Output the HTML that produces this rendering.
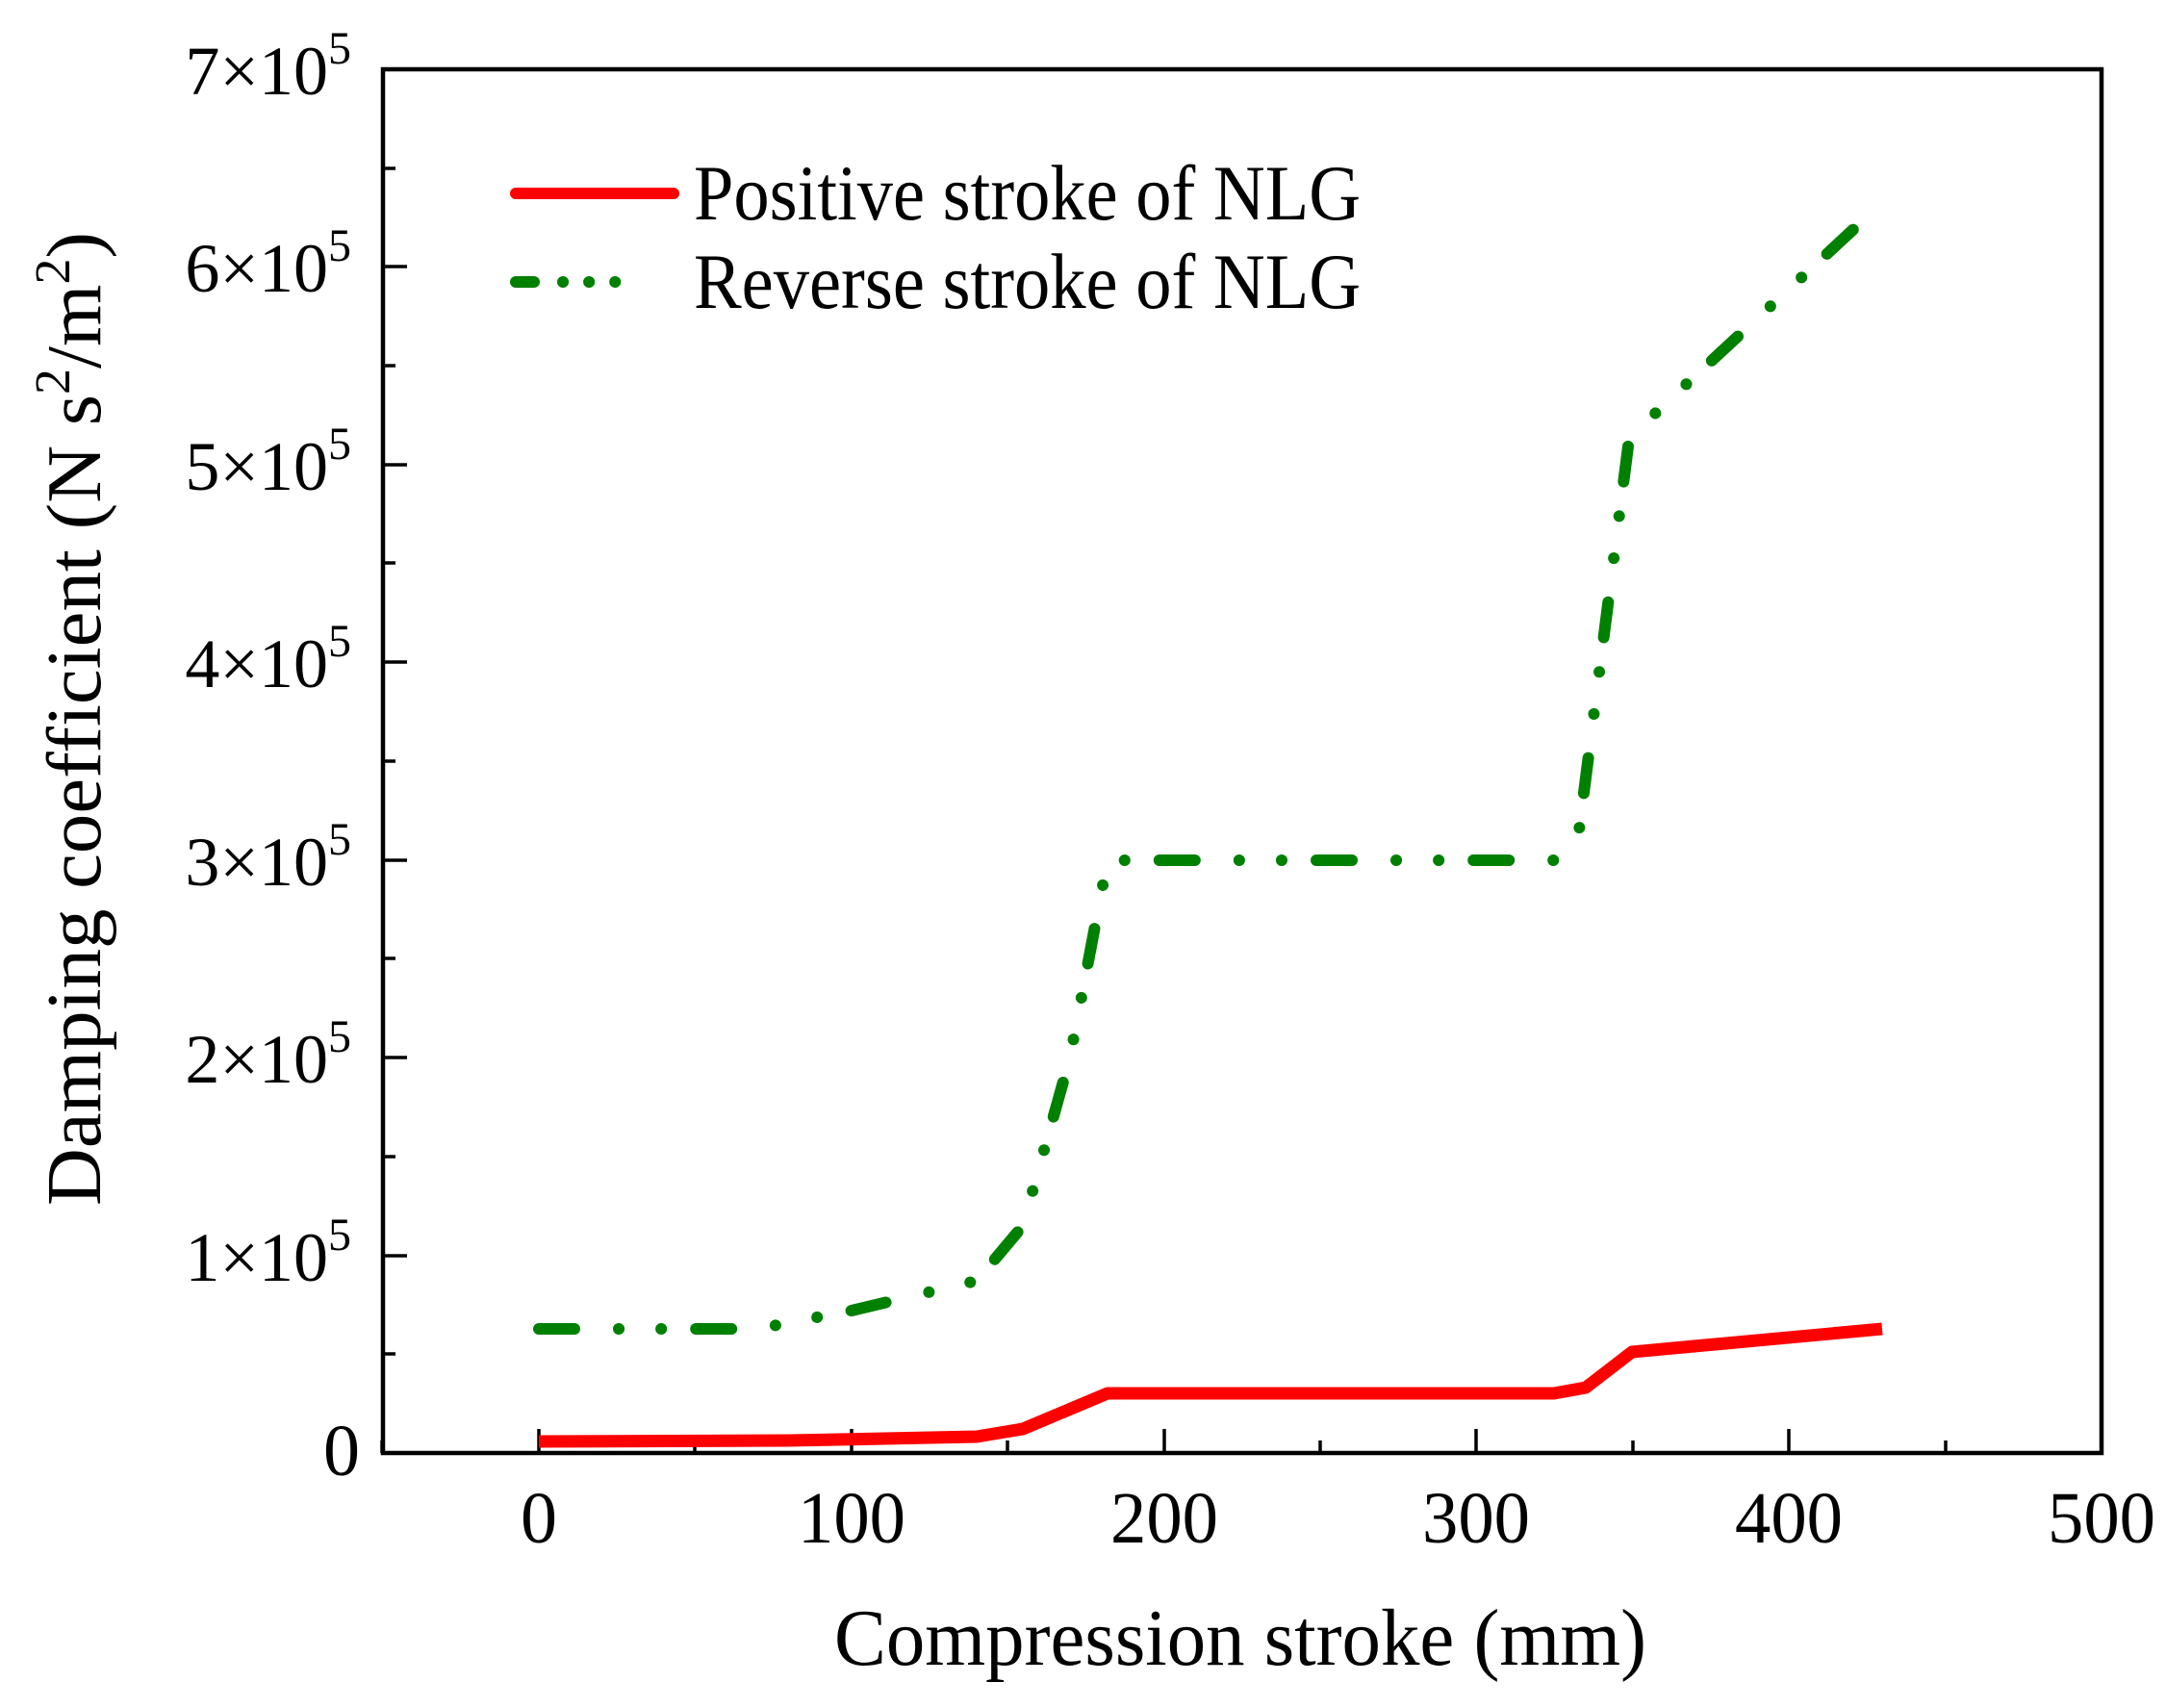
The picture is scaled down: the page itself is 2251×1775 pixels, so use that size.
<!DOCTYPE html>
<html><head><style>html,body{margin:0;padding:0;background:#fff}svg{display:block}</style></head>
<body>
<svg width="2251" height="1775" viewBox="0 0 2251 1775" xmlns="http://www.w3.org/2000/svg" font-family="Liberation Serif, serif">
<rect width="2251" height="1775" fill="#fff"/>
<g stroke="#000" stroke-width="3.5">
<path d="M560 1510v-25M885 1510v-25M1210 1510v-25M1534 1510v-25M1859 1510v-25"/>
<path d="M397 1510v-13M722 1510v-13M1047 1510v-13M1372 1510v-13M1697 1510v-13M2022 1510v-13"/>
<path d="M398 1305h25M398 1099h25M398 894h25M398 688h25M398 483h25M398 277h25"/>
<path d="M398 1407h13M398 1202h13M398 996h13M398 791h13M398 585h13M398 380h13M398 175h13"/>
</g>
<rect x="398" y="72" width="1786" height="1438" fill="none" stroke="#000" stroke-width="4.5"/>
<polyline fill="none" stroke="#008000" stroke-width="12" stroke-linecap="round" stroke-linejoin="round" stroke-dasharray="37 46 0.1 44 0.1 36"
points="560,1381 787,1381 885,1362 1015,1331 1063,1274 1112,1099 1151,894 1615,894 1641,863 1693,456 1729,421 1933,232"/>
<polyline fill="none" stroke="#ff0000" stroke-width="13" stroke-linejoin="round"
points="560,1498 820,1497 1015,1493 1063,1485 1151,1448 1615,1448 1648,1442 1696,1405 1956,1381"/>
<g font-size="76" text-anchor="middle">
<text x="560" y="1603">0</text>
<text x="885" y="1603" textLength="112" lengthAdjust="spacingAndGlyphs">100</text>
<text x="1210" y="1603" textLength="112" lengthAdjust="spacingAndGlyphs">200</text>
<text x="1534" y="1603" textLength="112" lengthAdjust="spacingAndGlyphs">300</text>
<text x="1859" y="1603" textLength="112" lengthAdjust="spacingAndGlyphs">400</text>
<text x="2184" y="1603" textLength="112" lengthAdjust="spacingAndGlyphs">500</text>
</g>
<text x="1289" y="1730" font-size="84" text-anchor="middle" textLength="844" lengthAdjust="spacingAndGlyphs">Compression stroke (mm)</text>
<g font-size="72" text-anchor="end">
<text x="374" y="1533" font-size="76">0</text>
<text x="365" y="1331">1×10<tspan dy="-32" font-size="48">5</tspan></text>
<text x="365" y="1125">2×10<tspan dy="-32" font-size="48">5</tspan></text>
<text x="365" y="920">3×10<tspan dy="-32" font-size="48">5</tspan></text>
<text x="365" y="714">4×10<tspan dy="-32" font-size="48">5</tspan></text>
<text x="365" y="509">5×10<tspan dy="-32" font-size="48">5</tspan></text>
<text x="365" y="303">6×10<tspan dy="-32" font-size="48">5</tspan></text>
<text x="365" y="98">7×10<tspan dy="-32" font-size="48">5</tspan></text>
</g>
<text transform="translate(104,747) rotate(-90)" font-size="80" text-anchor="middle" textLength="1012" lengthAdjust="spacingAndGlyphs">Damping coefficient (N s<tspan dy="-32" font-size="52">2</tspan><tspan dy="32">/m</tspan><tspan dy="-32" font-size="52">2</tspan><tspan dy="32">)</tspan></text>
<line x1="536" y1="201" x2="700" y2="201" stroke="#ff0000" stroke-width="12" stroke-linecap="round"/>
<polyline points="536,293 706,293" fill="none" stroke="#008000" stroke-width="12" stroke-linecap="round" stroke-dasharray="19 30 0.1 27 0.1 27 0.1 100"/>
<text x="721" y="228" font-size="82" textLength="693" lengthAdjust="spacingAndGlyphs">Positive stroke of NLG</text>
<text x="721" y="320" font-size="82" textLength="693" lengthAdjust="spacingAndGlyphs">Reverse stroke of NLG</text>
</svg>
</body></html>
